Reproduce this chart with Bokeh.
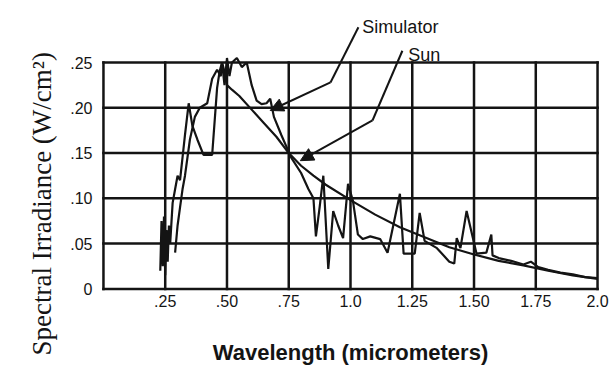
from bokeh.plotting import figure
from bokeh.models import FixedTicker, Label, Arrow, NormalHead, Range1d, Title
from bokeh.embed import file_html
from bokeh.resources import INLINE

# ---- data ----
sim_x = [0.23, 0.235, 0.24, 0.245, 0.25, 0.255, 0.26, 0.265, 0.27, 0.28, 0.29, 0.30, 0.31, 0.32,
         0.33, 0.345, 0.36, 0.38, 0.405, 0.44, 0.46, 0.47, 0.48, 0.49, 0.50, 0.51, 0.52, 0.54,
         0.56, 0.58, 0.60, 0.62, 0.64, 0.66, 0.675, 0.69, 0.72, 0.76, 0.80, 0.83, 0.85, 0.86,
         0.875, 0.89, 0.91, 0.93, 0.95, 0.97, 0.99, 1.01, 1.03, 1.05, 1.08, 1.12, 1.15, 1.20,
         1.215, 1.26, 1.28, 1.30, 1.35, 1.40, 1.42, 1.43, 1.445, 1.47, 1.51, 1.55, 1.57, 1.575,
         1.60, 1.65, 1.70, 1.73, 1.76, 1.80, 1.85, 1.90, 1.95, 2.00]
sim_y = [0.02, 0.075, 0.025, 0.08, 0.015, 0.065, 0.03, 0.07, 0.05, 0.095, 0.11, 0.125, 0.12, 0.145,
         0.17, 0.205, 0.18, 0.165, 0.148, 0.148, 0.222, 0.24, 0.25, 0.225, 0.255, 0.235, 0.25, 0.255,
         0.245, 0.25, 0.225, 0.208, 0.204, 0.205, 0.21, 0.19, 0.17, 0.145, 0.128, 0.11, 0.10, 0.058,
         0.09, 0.125, 0.022, 0.086, 0.07, 0.056, 0.116, 0.097, 0.06, 0.055, 0.058, 0.055, 0.04, 0.105,
         0.039, 0.039, 0.084, 0.053, 0.045, 0.03, 0.028, 0.056, 0.045, 0.086, 0.039, 0.04, 0.06, 0.037,
         0.034, 0.031, 0.027, 0.03, 0.024, 0.021, 0.018, 0.016, 0.013, 0.012]

sun_x = [0.29, 0.30, 0.31, 0.32, 0.33, 0.35, 0.37, 0.39, 0.42, 0.44, 0.46, 0.475, 0.48, 0.49,
         0.50, 0.52, 0.55, 0.60, 0.65, 0.70, 0.75, 0.80, 0.85, 0.90, 1.00, 1.10, 1.20, 1.30,
         1.40, 1.50, 1.60, 1.70, 1.80, 1.90, 2.00]
sun_y = [0.04, 0.07, 0.09, 0.11, 0.125, 0.165, 0.19, 0.20, 0.205, 0.232, 0.242, 0.235, 0.25, 0.24,
         0.225, 0.22, 0.213, 0.198, 0.183, 0.168, 0.15, 0.136, 0.125, 0.115, 0.098, 0.082, 0.068, 0.057,
         0.046, 0.038, 0.031, 0.026, 0.02, 0.015, 0.011]

x_ticks = [0.25, 0.5, 0.75, 1.0, 1.25, 1.5, 1.75, 2.0]
x_tick_labels = [".25", ".50", ".75", "1.0", "1.25", "1.50", "1.75", "2.0"]
y_ticks = [0.0, 0.05, 0.10, 0.15, 0.20, 0.25]
y_tick_labels = ["0", ".05", ".10", ".15", ".20", ".25"]
x_grid = [0.0] + x_ticks
x_min, x_max = 0.0, 2.0
y_min, y_max = 0.0, 0.25

# annotation anchor points (data units)
sim_label = (1.048, 0.2897)
sim_leader = [(1.032, 0.289), (0.919, 0.228), (0.675, 0.197)]
sun_label = (1.234, 0.2587)
sun_leader = [(1.21, 0.263), (1.089, 0.186), (0.797, 0.1416)]

# ---- figure ----
p = figure(width=612, height=370, output_backend="svg", toolbar_location=None,
           x_range=Range1d(-0.012, 2.012), y_range=Range1d(-0.004, 0.313),
           min_border_left=100, min_border_right=12, min_border_top=5, min_border_bottom=78)
p.background_fill_color = "white"
p.border_fill_color = "white"
p.outline_line_color = None
p.grid.visible = False

ink = "#141414"
for ax in (p.xaxis[0], p.yaxis[0]):
    ax.axis_line_color = None
    ax.major_tick_line_color = None
    ax.minor_tick_line_color = None
    ax.major_label_text_font = "Liberation Sans"
    ax.major_label_text_font_size = "16px"
    ax.major_label_text_color = ink

p.xaxis.ticker = FixedTicker(ticks=x_ticks)
p.xaxis.major_label_overrides = {t: l for t, l in zip(x_ticks, x_tick_labels)}
p.xaxis.major_label_standoff = -4
p.xaxis.axis_label = "Wavelength (micrometers)"
p.xaxis.axis_label_text_font = "Liberation Sans"
p.xaxis.axis_label_text_font_style = "bold"
p.xaxis.axis_label_text_font_size = "22px"
p.xaxis.axis_label_text_color = ink
p.xaxis.axis_label_standoff = 30

p.yaxis.ticker = FixedTicker(ticks=y_ticks)
p.yaxis.major_label_overrides = {t: l for t, l in zip(y_ticks, y_tick_labels)}
p.yaxis.major_label_standoff = 2
p.yaxis.bounds = (y_min, y_max)

# grid / box, spanning only the data area (taken from the tick lists)
p.segment(x0=x_grid, y0=[y_min] * len(x_grid), x1=x_grid, y1=[y_max] * len(x_grid),
          line_color=ink, line_width=2.5, line_cap="square", level="underlay")
p.segment(x0=[x_min] * len(y_ticks), y0=y_ticks, x1=[x_max] * len(y_ticks), y1=y_ticks,
          line_color=ink, line_width=2.5, line_cap="square", level="underlay")

p.line(sun_x, sun_y, line_color=ink, line_width=2.2)
p.line(sim_x, sim_y, line_color=ink, line_width=2.2)

# y axis title
p.add_layout(Title(text="Spectral Irradiance (W/cm²)", align="left", offset=-63, standoff=22,
                   text_font="Liberation Serif", text_font_size="27px",
                   text_font_style="normal", text_color=ink), "left")

# series labels with leader arrows
p.add_layout(Label(x=sim_label[0], y=sim_label[1], text="Simulator", text_align="left",
                   text_baseline="middle", text_font="Liberation Sans", text_font_size="18px",
                   text_color=ink))
p.add_layout(Label(x=sun_label[0], y=sun_label[1], text="Sun", text_align="left",
                   text_baseline="middle", text_font="Liberation Sans", text_font_size="18px",
                   text_color=ink))

for pts in (sim_leader, sun_leader):
    (x0, y0), (x1, y1), (x2, y2) = pts
    p.add_layout(Arrow(x_start=x0, y_start=y0, x_end=x1, y_end=y1, end=None,
                       line_color=ink, line_width=2))
    p.add_layout(Arrow(x_start=x1, y_start=y1, x_end=x2, y_end=y2,
                       end=NormalHead(size=13, fill_color=ink, line_color=ink),
                       line_color=ink, line_width=2))

open("out.html", "w").write(file_html(p, INLINE))
